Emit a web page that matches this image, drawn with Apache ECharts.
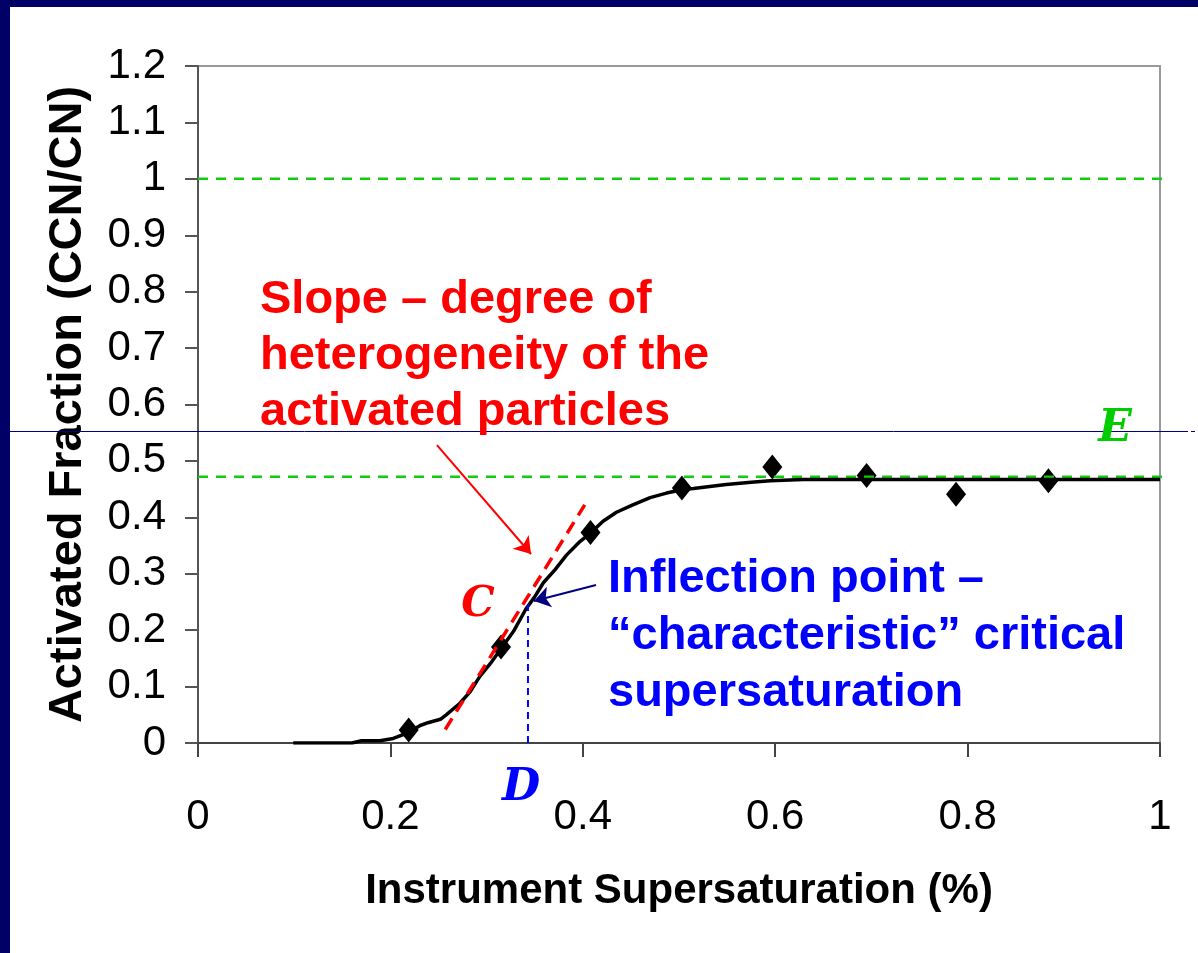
<!DOCTYPE html>
<html>
<head>
<meta charset="utf-8">
<script src="https://cdn.jsdelivr.net/npm/echarts@6/dist/echarts.min.js"></script>
<style>
  html, body { margin: 0; padding: 0; background: #fff; }
  #chart { width: 1198px; height: 953px; }
</style>
</head>
<body>
<div id="chart"></div>
<script>
// fitted activation curve
const fitX = [0.099, 0.16, 0.17, 0.189, 0.203, 0.218, 0.231, 0.239, 0.252, 0.258, 0.272, 0.283, 0.293, 0.304,
  0.314, 0.328, 0.341, 0.35, 0.359, 0.371, 0.383, 0.397, 0.408, 0.421, 0.435, 0.452, 0.47, 0.487, 0.503,
  0.515, 0.549, 0.575, 0.595, 0.629, 0.65, 1.0]
const fitY = [0, 0, 0.004, 0.004, 0.008, 0.018, 0.031, 0.036, 0.042, 0.05, 0.07, 0.091, 0.118, 0.141,
  0.165, 0.198, 0.238, 0.259, 0.284, 0.307, 0.333, 0.357, 0.372, 0.393, 0.409, 0.422, 0.435, 0.443, 0.449,
  0.451, 0.458, 0.462, 0.465, 0.467, 0.467, 0.467]

// measured points
const measX = [0.219, 0.315, 0.408, 0.503, 0.597, 0.695, 0.788, 0.884]
const measY = [0.023, 0.170, 0.373, 0.452, 0.489, 0.474, 0.441, 0.465]

// annotation lines (data units)
const slopeX = [0.257, 0.402]
const slopeY = [0.024, 0.422]
const maxFraction = 1.0
const plateau = 0.472
const refLineEnd = 1.018
const inflectionX = 0.343
const inflectionY = 0.254
const slopeArrow = [[0.2484, 0.528], [0.3462, 0.335]]
const inflArrow = [[0.4137, 0.280], [0.3493, 0.2518]]

const redLines = ['Slope \u2013 degree of', 'heterogeneity of the', 'activated particles']
const blueLines = ['Inflection point \u2013', '\u201ccharacteristic\u201d critical', 'supersaturation']

const zip = (xs, ys) => xs.map((x, i) => [x, ys[i]])

let chart = echarts.init(document.getElementById('chart'))

chart.setOption({
  backgroundColor: '#fff',
  animation: false,
  textStyle: { fontFamily: 'Liberation Sans, Arial, sans-serif' },
  grid: {
    left: 198, right: 38, top: 66, bottom: 210,
    show: true, borderColor: '#999', borderWidth: 2,
    outerBoundsMode: 'none'
  },
  xAxis: {
    type: 'value', min: 0, max: 1, interval: 0.2,
    name: 'Instrument Supersaturation (%)',
    nameLocation: 'middle', nameGap: 127,
    nameTextStyle: { fontSize: 42, fontWeight: 'bold', color: '#000' },
    axisLine: { lineStyle: { color: '#444', width: 2 } },
    axisTick: { length: 14, lineStyle: { color: '#444', width: 2 } },
    axisLabel: { fontSize: 42, color: '#000', margin: 53 },
    splitLine: { show: false }
  },
  yAxis: {
    type: 'value', min: 0, max: 1.2, interval: 0.1,
    name: 'Activated Fraction (CCN/CN)',
    nameLocation: 'middle', nameGap: 106, nameRotate: 90,
    nameTextStyle: { fontSize: 47, fontWeight: 'bold', color: '#000' },
    axisLine: { lineStyle: { color: '#555', width: 2 } },
    axisTick: { length: 13, lineStyle: { color: '#555', width: 2 } },
    axisLabel: { fontSize: 42, color: '#000', margin: 32, padding: [4, 0, 0, 0] },
    splitLine: { show: false }
  },
  series: [
    {
      type: 'line', name: 'max', symbol: 'none', clip: false, silent: true,
      data: [[0, maxFraction], [refLineEnd, maxFraction]],
      lineStyle: { color: '#11cc11', width: 2.5, type: [10, 8] }
    },
    {
      type: 'line', name: 'plateau', symbol: 'none', clip: false, silent: true,
      data: [[0, plateau], [refLineEnd, plateau]],
      lineStyle: { color: '#11cc11', width: 2.5, type: [10, 8] }
    },
    {
      type: 'line', name: 'fit', symbol: 'none',
      data: zip(fitX, fitY),
      lineStyle: { color: '#000', width: 3.5 }
    },
    {
      type: 'line', name: 'slope', symbol: 'none',
      data: zip(slopeX, slopeY),
      lineStyle: { color: '#ff0000', width: 3.5, type: [13, 8] }
    },
    {
      type: 'line', name: 'inflection', symbol: 'none',
      data: [[inflectionX, 0], [inflectionX, inflectionY]],
      lineStyle: { color: '#0000ff', width: 2, type: [7, 5] }
    },
    {
      type: 'scatter', name: 'measured',
      symbol: 'diamond', symbolSize: [20, 25],
      itemStyle: { color: '#000', opacity: 1 },
      data: zip(measX, measY)
    },
    {
      type: 'lines', coordinateSystem: 'cartesian2d',
      symbol: ['none', 'arrow'], symbolSize: 16,
      lineStyle: { color: '#ff0000', width: 2, opacity: 1 },
      data: [{ coords: slopeArrow }]
    },
    {
      type: 'lines', coordinateSystem: 'cartesian2d',
      symbol: ['none', 'arrow'], symbolSize: 16,
      lineStyle: { color: '#000080', width: 2, opacity: 1 },
      data: [{ coords: inflArrow }]
    }
  ],
  graphic: [
    // slide frame
    { type: 'rect', shape: { x: 0, y: 0, width: 1198, height: 7 }, style: { fill: '#000066' }, z: 100 },
    { type: 'rect', shape: { x: 0, y: 0, width: 10, height: 953 }, style: { fill: '#000066' }, z: 100 },
    { type: 'line', shape: { x1: 10, y1: 431.5, x2: 1188, y2: 431.5 }, style: { stroke: '#000080', lineWidth: 1 }, z: 1 },
    { type: 'line', shape: { x1: 1191, y1: 431.5, x2: 1195, y2: 431.5 }, style: { stroke: '#000080', lineWidth: 1 }, z: 1 },
    // annotations
    {
      type: 'text', left: 260, top: 272, z: 50,
      style: {
        text: redLines.join('\n'), fill: '#ff0000',
        font: 'bold 47px "Liberation Sans", Arial, sans-serif', lineHeight: 56
      }
    },
    {
      type: 'text', left: 608, top: 551, z: 50,
      style: {
        text: blueLines.join('\n'), fill: '#0000ff',
        font: 'bold 47px "Liberation Sans", Arial, sans-serif', lineHeight: 57
      }
    },
    {
      type: 'text', x: 478, y: 605, z: 50,
      style: { text: 'C', fill: '#ff0000', font: 'italic bold 42px "DejaVu Serif", serif', align: 'center', verticalAlign: 'middle' }
    },
    {
      type: 'text', x: 521, y: 789, z: 50,
      style: { text: 'D', fill: '#0000ff', font: 'italic bold 44px "DejaVu Serif", serif', align: 'center', verticalAlign: 'middle' }
    },
    {
      type: 'text', x: 1115, y: 430, z: 50,
      style: { text: 'E', fill: '#00cc00', font: 'italic bold 44px "DejaVu Serif", serif', align: 'center', verticalAlign: 'middle' }
    }
  ]
})
</script>
</body>
</html>
